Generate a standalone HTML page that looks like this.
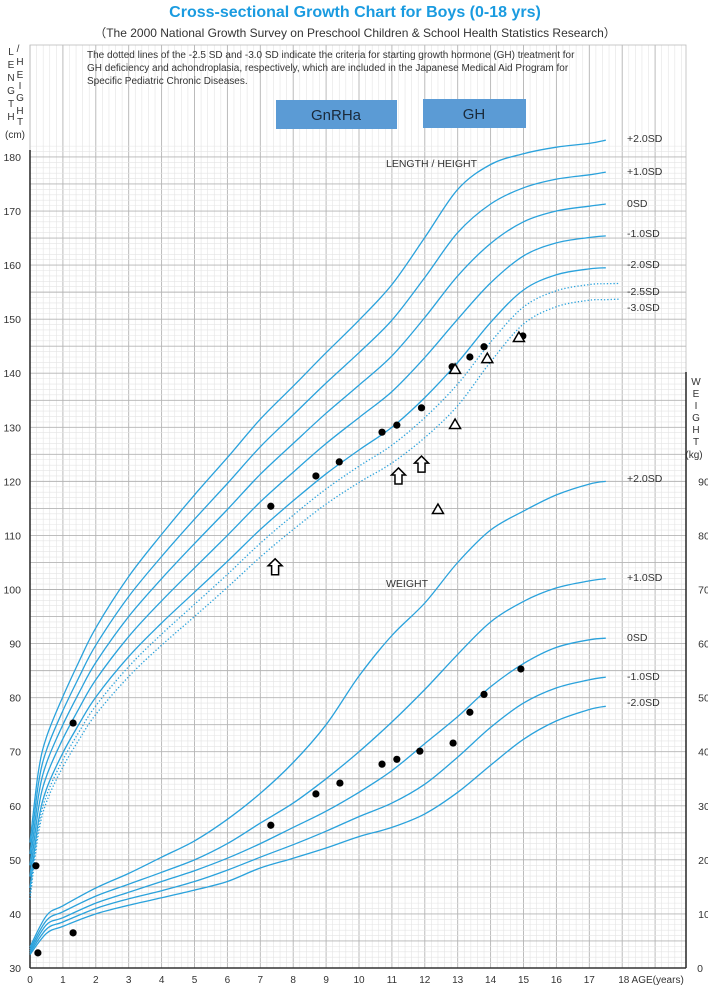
<!DOCTYPE html>
<html><head><meta charset="utf-8">
<style>
html,body{margin:0;padding:0;background:#fff;}
body{width:708px;height:987px;overflow:hidden;position:relative;font-family:"Liberation Sans",sans-serif;}
svg{position:absolute;left:0;top:0;}
</style></head>
<body>
<svg id="chart" width="708" height="987" viewBox="0 0 708 987" xmlns="http://www.w3.org/2000/svg">
<text x="355" y="17" text-anchor="middle" font-size="16" font-weight="bold" fill="#1a9be0" font-family="Liberation Sans, sans-serif">Cross-sectional Growth Chart for Boys (0-18 yrs)</text>
<text x="355" y="37" text-anchor="middle" font-size="12" fill="#333" font-family="Liberation Sans, sans-serif">（The 2000 National Growth Survey on Preschool Children &amp; School Health Statistics Research）</text>
<g id="grid"></g>
<g id="marks"></g>
</svg>
<script>
// ---- data ----
const hAges = [0,0.25,0.5,1,1.5,2,3,4,5,6,7,8,9,10,11,12,13,14,15,16,17,17.5];
const hP2  = [53.2,66.1,72.7,80.2,86.8,92.9,102.4,110.2,117.5,124.4,131.5,137.6,143.8,149.8,156.4,165.1,174.0,178.6,180.6,181.8,182.5,183.1];
const hP1  = [51.1,63.8,70.3,77.6,83.9,89.7,98.7,106.1,113.0,119.6,126.4,132.3,138.2,143.8,149.8,157.7,166.0,171.3,174.3,175.9,176.7,177.2];
const h0   = [49.0,61.5,67.9,75.0,81.0,86.5,95.0,102.0,108.5,114.8,121.3,127.0,132.6,137.8,143.2,150.3,158.0,164.0,168.0,170.0,170.9,171.3];
const hM1  = [46.9,59.2,65.5,72.4,78.1,83.3,91.3,97.9,104.0,110.0,116.2,121.7,127.0,131.8,136.6,142.9,150.0,156.7,161.7,164.1,165.1,165.4];
const hM2  = [44.8,56.9,63.1,69.8,75.2,80.1,87.6,93.8,99.5,105.2,111.1,116.4,121.4,125.8,130.0,135.5,142.0,149.4,155.4,158.2,159.3,159.5];
const dAges = [0,0.25,0.5,1,1.5,2,3,4,5,6,7,8,9,10,11,12,13,14,15,16,17,17.5,17.9];
const hM25 = [43.75,55.75,61.9,68.5,73.75,78.5,85.75,91.75,97.25,102.8,108.55,113.75,118.6,122.8,126.7,131.8,138.0,145.75,152.25,155.25,156.4,156.55,156.6];
const hM3  = [42.7,54.6,60.7,67.2,72.3,76.9,83.9,89.7,95.0,100.4,106.0,111.1,115.8,119.8,123.4,128.1,134.0,142.1,149.1,152.3,153.5,153.6,153.7];
const wAges = [0,0.5,1,2,3,4,5,6,7,8,9,10,11,12,13,14,15,16,17,17.5];
const wP2 = [3.9,9.7,11.5,14.8,17.5,20.5,23.5,27.5,32.3,38,45,54,61.5,67.5,75,81,84.5,87.5,89.5,90];
const wP1 = [3.5,8.8,10.4,13.3,15.5,17.7,20,23,26.8,30.5,35,40,45.5,51.5,58,64,67.8,70.3,71.6,72];
const w0  = [3.1,8,9.3,12,14,16,18,20.3,23,26,29,32.5,36.5,41.5,46.5,52,56.3,59.3,60.7,61];
const wM1 = [2.8,7.2,8.5,11,12.8,14.3,16,18.1,20.5,22.8,25.3,28,30.5,34,39,44.5,49,51.8,53.3,53.8];
const wM2 = [2.5,6.4,7.7,10,11.6,13,14.4,16,18.5,20.3,22.2,24.3,26,28.5,32.5,37.5,42.3,45.7,47.8,48.4];
// patient measurements
const htDotAge = [0.18,1.31,7.32,8.69,9.4,10.7,11.15,11.9,12.83,13.37,13.8,14.98];
const htDotVal = [48.9,75.3,115.4,121.0,123.6,129.1,130.4,133.6,141.2,143.0,144.9,146.9];
const wtDotAge = [0.24,1.31,7.32,8.69,9.42,10.7,11.15,11.85,12.86,13.37,13.8,14.92];
const wtDotVal = [2.8,6.5,26.4,32.2,34.2,37.7,38.6,40.1,41.6,47.3,50.6,55.3];
const triAge = [12.92,13.9,14.86,12.92,12.4];
const triVal = [140.8,142.8,146.7,130.6,114.9];
const arrowAge = [7.45,11.2,11.9];
const arrowVal = [104.2,121.0,123.2];
const xTicks = [0,1,2,3,4,5,6,7,8,9,10,11,12,13,14,15,16,17];
const yTicksCm = [30,40,50,60,70,80,90,100,110,120,130,140,150,160,170,180];
const yTicksKg = [0,10,20,30,40,50,60,70,80,90];

// ---- axes ----
const X0=30, XS=32.9, Y0=968, YS=5.407;
const x = a => X0 + a*XS;
const yCm = h => Y0 - (h-30)*YS;
const yKg = w => Y0 - w*YS;
const NS='http://www.w3.org/2000/svg';
const svg=document.getElementById('chart');
const grid=document.getElementById('grid');
const marks=document.getElementById('marks');
function mk(tag, attrs, parent){const e=document.createElementNS(NS,tag);for(const k in attrs)e.setAttribute(k,attrs[k]);(parent||marks).appendChild(e);return e;}

// grid
const TOP=45, RIGHT=686;
for(let i=0;i<=330;i++){const a=i*0.2;const xx=x(a);if(xx>RIGHT+0.5)break;
  const major=(i%5===0);
  const l=mk('line',{x1:xx,x2:xx,y1:TOP,y2:Y0,stroke:major?'#b4b4b4':'#e4e4e4','stroke-width':major?0.9:0.6},grid);
  
  
}
for(let c=30;c<=182;c++){const yy=yCm(c);if(yy<TOP)break;
  const major=(c%5===0);
  const l=mk('line',{x1:X0,x2:RIGHT,y1:yy,y2:yy,stroke:major?'#b4b4b4':'#e4e4e4','stroke-width':major?0.9:0.6},grid);
  
  
}
mk('rect',{x:X0,y:TOP,width:RIGHT-X0,height:Y0-TOP,fill:'none',stroke:'#bbb','stroke-width':0.8},grid);
let ax=mk('line',{x1:X0,x2:X0,y1:150,y2:Y0,stroke:'#333','stroke-width':1.6});

ax=mk('line',{x1:X0,x2:RIGHT,y1:Y0,y2:Y0,stroke:'#333','stroke-width':1.6});

ax=mk('line',{x1:RIGHT,x2:RIGHT,y1:372,y2:Y0,stroke:'#333','stroke-width':1.6});


// ticks
xTicks.forEach(t=>{const e=mk('text',{x:x(t),y:983,'text-anchor':'middle','font-size':10,fill:'#333'});e.textContent=t;
  });
let e0=mk('text',{x:x(18)-4,y:983,'font-size':10,fill:'#333'});e0.textContent='18 AGE(years)';

yTicksCm.forEach(t=>{const e=mk('text',{x:21,y:yCm(t)+4,'text-anchor':'end','font-size':10.5,fill:'#333'});e.textContent=t;
  });
yTicksKg.forEach(t=>{const e=mk('text',{x:t===0?700:704,y:yKg(t)+4,'text-anchor':'middle','font-size':10.5,fill:'#333'});e.textContent=t;
  });

// curves
function pathFrom(ax, ay){const p=ax.map((a,i)=>[a,ay[i]]);let d='M'+p[0][0].toFixed(1)+' '+p[0][1].toFixed(1);
  for(let i=0;i<p.length-1;i++){const p0=p[Math.max(0,i-1)],p1=p[i],p2=p[i+1],p3=p[Math.min(p.length-1,i+2)];
    const c1=[p1[0]+(p2[0]-p0[0])/6,p1[1]+(p2[1]-p0[1])/6],c2=[p2[0]-(p3[0]-p1[0])/6,p2[1]-(p3[1]-p1[1])/6];
    d+=' C'+c1[0].toFixed(1)+' '+c1[1].toFixed(1)+' '+c2[0].toFixed(1)+' '+c2[1].toFixed(1)+' '+p2[0].toFixed(1)+' '+p2[1].toFixed(1);}
  return d;}
const BLUE='#2aa2dc';
function curve(ages, vals, yf, name, dotted){
  const el=mk('path',{d:pathFrom(ages.map(x),vals.map(yf)),fill:'none',stroke:BLUE,'stroke-width':dotted?1.3:1.3,'stroke-dasharray':dotted?'1.3 2':'none'});
  
  
}
curve(hAges,hP2,yCm,'height-curve-plus2sd');
curve(hAges,hP1,yCm,'height-curve-plus1sd');
curve(hAges,h0,yCm,'height-curve-0sd');
curve(hAges,hM1,yCm,'height-curve-minus1sd');
curve(hAges,hM2,yCm,'height-curve-minus2sd');
curve(dAges,hM25,yCm,'height-curve-minus2-5sd',true);
curve(dAges,hM3,yCm,'height-curve-minus3sd',true);
curve(wAges,wP2,yKg,'weight-curve-plus2sd');
curve(wAges,wP1,yKg,'weight-curve-plus1sd');
curve(wAges,w0,yKg,'weight-curve-0sd');
curve(wAges,wM1,yKg,'weight-curve-minus1sd');
curve(wAges,wM2,yKg,'weight-curve-minus2sd');

// SD labels
function lab(txt,y,name){const e=mk('text',{x:627,y:y+4,'font-size':10.5,fill:'#333'});e.textContent=txt;
  }
lab('+2.0SD',138,'height-label-plus2sd');lab('+1.0SD',171,'height-label-plus1sd');lab('0SD',203,'height-label-0sd');
lab('-1.0SD',233,'height-label-minus1sd');lab('-2.0SD',264,'height-label-minus2sd');lab('-2.5SD',291,'height-label-minus2-5sd');lab('-3.0SD',307,'height-label-minus3sd');
lab('+2.0SD',478,'weight-label-plus2sd');lab('+1.0SD',577,'weight-label-plus1sd');lab('0SD',637,'weight-label-0sd');
lab('-1.0SD',676,'weight-label-minus1sd');lab('-2.0SD',702,'weight-label-minus2sd');

// markers
htDotAge.forEach((a,i)=>{const c=mk('circle',{cx:x(a),cy:yCm(htDotVal[i]),r:3.6,fill:'#000'});
  });
wtDotAge.forEach((a,i)=>{const c=mk('circle',{cx:x(a),cy:yKg(wtDotVal[i]),r:3.6,fill:'#000'});
  });
triAge.forEach((a,i)=>{const cx=x(a),cy=yCm(triVal[i]);
  const t=mk('polygon',{points:`${cx},${cy-5} ${cx-5.5},${cy+4.5} ${cx+5.5},${cy+4.5}`,fill:'#fff',stroke:'#000','stroke-width':1.5});
  });
arrowAge.forEach((a,i)=>{const cx=x(a),cy=yCm(arrowVal[i]);
  const pts=[[0,-8],[7,-1],[3.5,-1],[3.5,8],[-3.5,8],[-3.5,-1],[-7,-1]].map(p=>(cx+p[0])+','+(cy+p[1])).join(' ');
  const t=mk('polygon',{points:pts,fill:'#fff',stroke:'#000','stroke-width':1.5});
  });
</script>
<svg width="708" height="987" style="pointer-events:none" xmlns="http://www.w3.org/2000/svg">
<rect x="87" y="44" width="540" height="44" fill="#fff" opacity="0"/>
<g font-family="Liberation Sans, sans-serif" font-size="10" fill="#333">
<text x="87" y="58">The dotted lines of the -2.5 SD and -3.0 SD indicate the criteria for starting growth hormone (GH) treatment for</text>
<text x="87" y="71">GH deficiency and achondroplasia, respectively, which are included in the Japanese Medical Aid Program for</text>
<text x="87" y="84">Specific Pediatric Chronic Diseases.</text>
<text x="386" y="167" font-size="10.5">LENGTH / HEIGHT</text>
<text x="386" y="587" font-size="10.5">WEIGHT</text>
</g>
<g font-family="Liberation Sans, sans-serif" font-size="10" fill="#333" text-anchor="middle">
<text x="11" y="55">L</text><text x="18" y="52">/</text><text x="11" y="68">E</text><text x="11" y="81">N</text><text x="11" y="94">G</text><text x="11" y="107">T</text><text x="11" y="120">H</text>
<text x="20" y="65">H</text><text x="20" y="78">E</text><text x="20" y="89">I</text><text x="20" y="101">G</text><text x="20" y="114">H</text><text x="20" y="125">T</text>
<text x="15" y="138">(cm)</text>
</g>
<g font-family="Liberation Sans, sans-serif" font-size="10" fill="#333" text-anchor="middle">
<text x="696" y="385">W</text><text x="696" y="397">E</text><text x="696" y="409">I</text><text x="696" y="421">G</text><text x="696" y="433">H</text><text x="696" y="445">T</text><text x="694" y="458">(kg)</text>
</g>
<rect x="276" y="100" width="121" height="29" fill="#5b9bd5"/>
<text x="336" y="120" text-anchor="middle" font-family="Liberation Sans, sans-serif" font-size="15" fill="#1a2a3a">GnRHa</text>
<rect x="423" y="99" width="103" height="29" fill="#5b9bd5"/>
<text x="474" y="119" text-anchor="middle" font-family="Liberation Sans, sans-serif" font-size="15" fill="#1a2a3a">GH</text>
</svg>
</body></html>
